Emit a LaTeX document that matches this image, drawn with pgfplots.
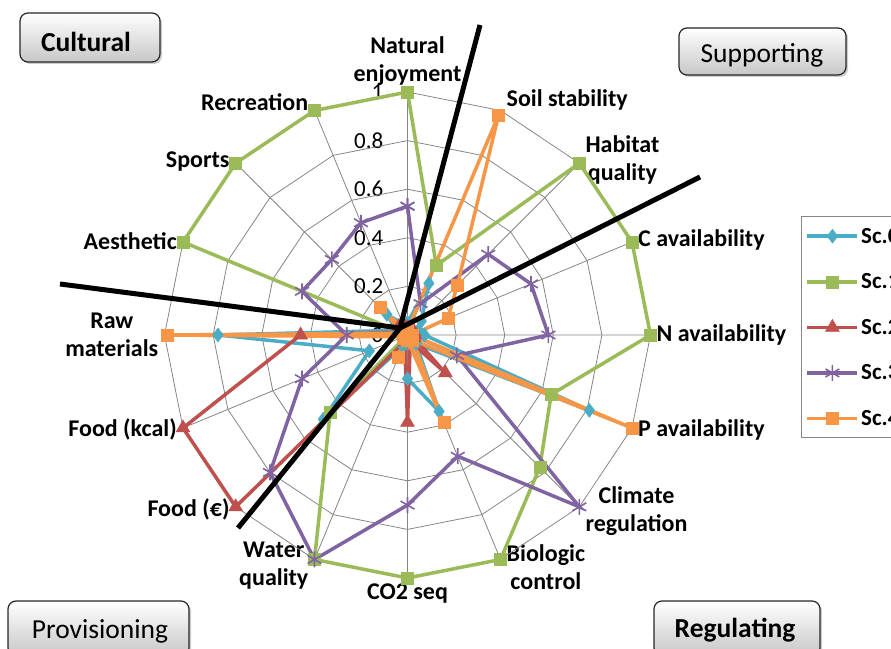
\documentclass[border=0pt]{standalone}
\usepackage{pgfplots}
\pgfplotsset{compat=1.18}
\usepgfplotslibrary{polar}
\usetikzlibrary{shadows}
\usepackage{fontspec}
\setmainfont{Carlito}
\definecolor{scA}{HTML}{4BACC6}
\definecolor{scB}{HTML}{9BBB59}
\definecolor{scC}{HTML}{C0504D}
\definecolor{scD}{HTML}{8064A2}
\definecolor{scE}{HTML}{F79646}
\definecolor{gridgray}{HTML}{868686}
\newcommand{\lbl}{\bfseries\fontsize{24}{28}\selectfont}
\newcommand{\lgd}{\bfseries\fontsize{23}{26}\selectfont}
\newcommand{\boxfont}{\fontsize{27.5}{30}\selectfont}
\tikzset{catbox/.style={draw=black!85, line width=1.2pt, rounded corners=8pt, top color=white, bottom color=black!22, drop shadow={shadow xshift=2pt, shadow yshift=-2pt, opacity=0.4}}}
\begin{document}
\begin{tikzpicture}[x=1pt,y=1pt]
\useasboundingbox (0,0) rectangle (891,648);
\begin{polaraxis}[
  at={(407.5pt,313pt)}, anchor=center,
  width=486pt, height=486pt, scale only axis,
  xmin=90, xmax=450, ymin=0, ymax=1,
  clip=false,
  axis line style={draw=none},
  major tick length=0pt,
  xtick={90,112.5,135,157.5,180,202.5,225,247.5,270,292.5,315,337.5,360,382.5,405,427.5},
  xticklabels={{Natural\\enjoyment},Recreation,Sports,Aesthetic,{Raw\\materials},Food (kcal),Food (€),{Water\\quality},CO2 seq,{Biologic\\control},{Climate\\regulation},P availability,N availability,C availability,{Habitat\\quality},Soil stability},
  xticklabel style={font=\lbl, align=center, inner sep=6pt, anchor={atan2(-0.06*sin(\tick),-cos(\tick))}},
  ytick={0,0.2,0.4,0.6,0.8,1},
  yticklabels={0,0.2,0.4,0.6,0.8,1},
  yticklabel style={font=\fontsize{23}{26}\selectfont, anchor=east, inner sep=2pt, xshift=-22pt},
  xmajorgrids, ymajorgrids=false,
  major grid style={gridgray, line width=0.8pt},
  legend style={at={(axis description cs:1.31,0.744)}, anchor=north west, draw=gridgray, line width=1pt, font=\lgd, row sep=25pt, inner xsep=4pt, inner ysep=9pt, cells={anchor=west}},
  legend image code/.code={\draw[mark repeat=2,mark phase=2,#1] plot coordinates {(0pt,0pt) (25pt,0pt) (50pt,0pt)};},
]
% polygonal grid rings
\addplot[gridgray, line width=0.8pt, forget plot, mark=none] coordinates {(90,0.2) (112.5,0.2) (135,0.2) (157.5,0.2) (180,0.2) (202.5,0.2) (225,0.2) (247.5,0.2) (270,0.2) (292.5,0.2) (315,0.2) (337.5,0.2) (360,0.2) (382.5,0.2) (405,0.2) (427.5,0.2) (450,0.2)};
\addplot[gridgray, line width=0.8pt, forget plot, mark=none] coordinates {(90,0.4) (112.5,0.4) (135,0.4) (157.5,0.4) (180,0.4) (202.5,0.4) (225,0.4) (247.5,0.4) (270,0.4) (292.5,0.4) (315,0.4) (337.5,0.4) (360,0.4) (382.5,0.4) (405,0.4) (427.5,0.4) (450,0.4)};
\addplot[gridgray, line width=0.8pt, forget plot, mark=none] coordinates {(90,0.6) (112.5,0.6) (135,0.6) (157.5,0.6) (180,0.6) (202.5,0.6) (225,0.6) (247.5,0.6) (270,0.6) (292.5,0.6) (315,0.6) (337.5,0.6) (360,0.6) (382.5,0.6) (405,0.6) (427.5,0.6) (450,0.6)};
\addplot[gridgray, line width=0.8pt, forget plot, mark=none] coordinates {(90,0.8) (112.5,0.8) (135,0.8) (157.5,0.8) (180,0.8) (202.5,0.8) (225,0.8) (247.5,0.8) (270,0.8) (292.5,0.8) (315,0.8) (337.5,0.8) (360,0.8) (382.5,0.8) (405,0.8) (427.5,0.8) (450,0.8)};
\addplot[gridgray, line width=0.8pt, forget plot, mark=none] coordinates {(90,1) (112.5,1) (135,1) (157.5,1) (180,1) (202.5,1) (225,1) (247.5,1) (270,1) (292.5,1) (315,1) (337.5,1) (360,1) (382.5,1) (405,1) (427.5,1) (450,1)};
% Sc.0
\addplot[scA, line width=3.5pt, mark=diamond*, mark size=7pt, mark options={solid, line width=0.5pt}] coordinates {(90,0.05) (112.5,0.05) (135,0.12) (157.5,0.05) (180,0.78) (202.5,0.17) (225,0.49) (247.5,0.05) (270,0.18) (292.5,0.34) (315,0.05) (337.5,0.81) (360,0.07) (382.5,0.05) (405,0.08) (427.5,0.23) (450,0.05)};
% Sc.1
\addplot[scB, line width=3.5pt, mark=square*, mark size=6pt, mark options={solid, line width=0.5pt}] coordinates {(90,1) (112.5,1) (135,1) (157.5,1) (180,0) (202.5,0) (225,0.45) (247.5,1) (270,1) (292.5,1) (315,0.77) (337.5,0.64) (360,1) (382.5,1) (405,1) (427.5,0.31) (450,1)};
% Sc.2
\addplot[scC, line width=3.5pt, mark=triangle*, mark size=8pt, mark options={solid, line width=0.5pt}] coordinates {(90,0.03) (112.5,0.05) (135,0.05) (157.5,0.03) (180,0.44) (202.5,1) (225,1) (247.5,0.03) (270,0.36) (292.5,0.03) (315,0.22) (337.5,0.03) (360,0.03) (382.5,0.03) (405,0.03) (427.5,0.03) (450,0.03)};
% Sc.3
\addplot[scD, line width=3.5pt, mark=asterisk, mark size=8pt, mark options={solid, line width=1.6pt}] coordinates {(90,0.53) (112.5,0.5) (135,0.44) (157.5,0.47) (180,0.25) (202.5,0.47) (225,0.8) (247.5,1) (270,0.7) (292.5,0.54) (315,1) (337.5,0.22) (360,0.58) (382.5,0.55) (405,0.47) (427.5,0.14) (450,0.53)};
% Sc.4
\addplot[scE, line width=3.5pt, mark=square*, mark size=6pt, mark options={solid, line width=0.5pt}] coordinates {(90,0.02) (112.5,0.02) (135,0.16) (157.5,0.02) (180,0.99) (202.5,0.02) (225,0.02) (247.5,0.1) (270,0.02) (292.5,0.39) (315,0.03) (337.5,1) (360,0.02) (382.5,0.18) (405,0.29) (427.5,0.98) (450,0.02)};
\legend{Sc.0,Sc.1,Sc.2,Sc.3,Sc.4}
\end{polaraxis}
% sector dividing lines
\draw[black, line width=5pt] (400,320) -- (480,623);
\draw[black, line width=5pt] (400,320) -- (700,471);
\draw[black, line width=5pt] (400,320) -- (60,364);
\draw[black, line width=5pt] (400,320) -- (238,120);
% category boxes
\path[catbox] (20,635) rectangle (160,586);
\path[catbox] (679,620) rectangle (846,573);
\path[catbox] (8,47) rectangle (189,-8);
\path[catbox] (654,47) rectangle (820,-8);
\node[font=\boxfont\bfseries] at (86,606) {Cultural};
\node[font=\boxfont] at (762,593) {Supporting};
\node[font=\boxfont] at (100,17) {Provisioning};
\node[font=\boxfont\bfseries] at (735,18) {Regulating};
\end{tikzpicture}
\end{document}
